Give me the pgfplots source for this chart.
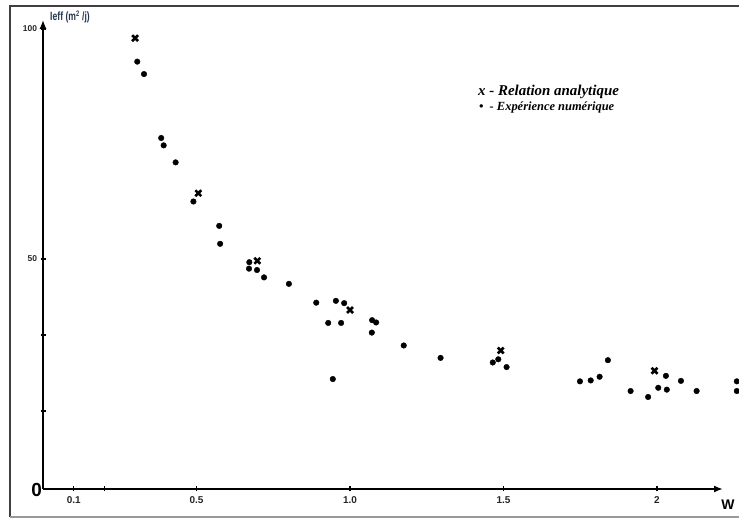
\documentclass[border=0pt]{standalone}
\usepackage{pgfplots}
\pgfplotsset{compat=1.18}
\usepackage{fontspec}
\setmainfont{Liberation Sans}
\newfontfamily\legfont{Liberation Serif}
\newfontfamily\narrowfont[FakeStretch=0.72]{Liberation Sans}
\usetikzlibrary{arrows.meta}
\definecolor{labblue}{HTML}{243650}
\begin{document}
\begin{tikzpicture}[x=1bp,y=1bp]
\useasboundingbox (0,0) rectangle (739,518);
\fill[white] (0,0) rectangle (739,518);
\draw[line width=2bp, black!75] (10,1) -- (10,512) -- (739,512);
\draw[line width=2bp, black!40] (10,1) -- (739,1);
\begin{axis}[
  at={(43bp,29bp)}, anchor=south west,
  x=307bp, y=4.6bp, xmin=0, xmax=2.215, ymin=0, ymax=102,
  axis lines=left,
  every outer x axis line/.append style={line width=2.6bp, -{Latex[length=9bp,width=7bp]}},
  every outer y axis line/.append style={line width=2.6bp, -{Latex[length=9bp,width=7bp]}},
  clip=false,
  xtick={0.1,0.2,0.5,1,1.5,2}, xticklabels={0.1,,0.5,1.0,1.5,2},
  ytick={17,33.5,50,100}, yticklabels={,,50,100},
  tick style={black, line width=1.5bp}, major tick length=5bp,
  tick align=center,
  ticklabel style={font=\bfseries\fontsize{10}{12}\selectfont, text=black!85},
  /pgf/number format/assume math mode=true,
  xticklabel style={yshift=-2bp},
  yticklabel style={font=\bfseries\fontsize{8.5}{10}\selectfont},
]
\addplot[only marks, mark=*, mark size=2.8bp, black] coordinates {
(0.307,92.9) (0.329,90.2) (0.385,76.3) (0.393,74.7) (0.432,71.0)
(0.490,62.5) (0.574,57.2) (0.577,53.3) (0.672,49.3) (0.671,47.9)
(0.697,47.6) (0.720,46.0) (0.801,44.6) (0.890,40.5) (0.954,40.9)
(0.981,40.4) (0.929,36.1) (0.971,36.1) (1.072,36.7) (1.085,36.2)
(1.071,34.0) (1.175,31.2) (1.295,28.5) (0.944,23.9) (1.483,28.2)
(1.465,27.5) (1.510,26.5) (1.749,23.4) (1.784,23.6) (1.813,24.4)
(1.840,28.0) (1.914,21.3) (1.971,20.0) (2.029,24.6) (2.004,22.0)
(2.032,21.6) (2.078,23.5) (2.129,21.3) (2.260,23.4) (2.260,21.3)
};
\addplot[only marks, mark=x, mark size=4.2bp, line width=2.6bp, black] coordinates {
(0.300,98.0) (0.506,64.3) (0.698,49.6) (1.000,38.9) (1.491,30.1) (1.992,25.7)
};
\node[font=\bfseries\fontsize{14}{16}\selectfont] at (axis cs:2.231,-3.5) {W};
\node[font=\bfseries\fontsize{19}{20}\selectfont, anchor=east, inner sep=0pt] at (axis cs:-0.003,-0.3) {0};
\node[font=\narrowfont\bfseries\fontsize{12}{14}\selectfont, text=labblue] at (axis cs:0.088,102.6) {Ieff (m\textsuperscript{2} /j)};
\node[anchor=west, inner sep=0pt, font={\legfont\itshape\bfseries\fontsize{15}{17}\selectfont}] at (axis cs:1.417,86.3) {x - Relation analytique};
\node[anchor=west, inner sep=0pt, font={\legfont\itshape\bfseries\fontsize{12.5}{14}\selectfont}] at (axis cs:1.420,83.0) {\textbullet\ \ - Expérience numérique};
\end{axis}
\end{tikzpicture}
\end{document}
